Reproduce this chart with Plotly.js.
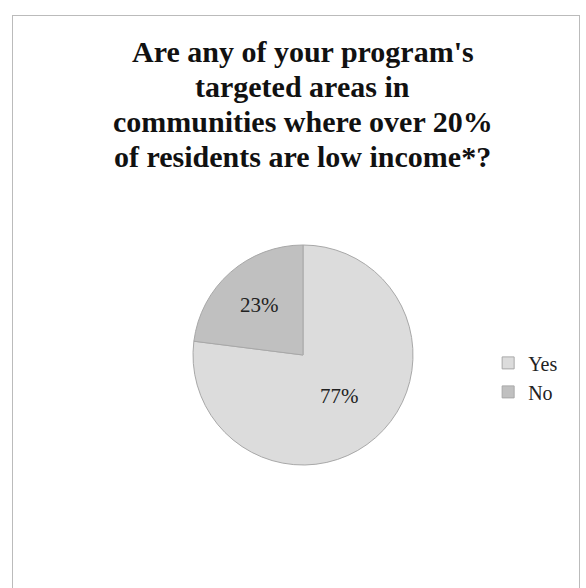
<!DOCTYPE html>
<html><head><meta charset="utf-8">
<script src="https://cdn.plot.ly/plotly-3.0.1.min.js"></script>
<style>
body{margin:0;padding:0;background:#fff;}
#frame{position:absolute;left:12px;top:15px;width:566px;height:580px;border:1px solid #bbb;}
#chart{position:absolute;left:0;top:0;width:586px;height:588px;}
</style></head>
<body>
<div id="frame"></div>
<div id="chart"></div>
<script>
const categories = ["Yes", "No"];
const values = [77, 23];
const colors = ["#dcdcdc", "#c0c0c0"];
const titleLines = ["Are any of your program's", "targeted areas in", "communities where over 20%", "of residents are low income*?"];

const lineTop = 33, lineStep = 35;
const annotations = titleLines.map((t, i) => ({
  text: t, xref: "paper", yref: "paper", showarrow: false,
  x: 0.517, xanchor: "center",
  y: 1 - (lineTop + i * lineStep) / 588, yanchor: "top",
  font: {family: "Liberation Serif", size: 30, color: "#111", weight: "bold"}
}));

Plotly.newPlot("chart", [{
  type: "pie",
  labels: categories,
  values: values,
  sort: false,
  direction: "clockwise",
  rotation: 0,
  marker: {colors: colors, line: {color: "#a8a8a8", width: 1}},
  textinfo: "percent",
  textposition: "inside",
  insidetextorientation: "horizontal",
  textfont: {family: "Liberation Serif", size: 21, color: "#222"},
  domain: {x: [193/586, 413/586], y: [1-465/588, 1-245/588]},
  hoverinfo: "none"
}], {
  width: 586, height: 588,
  margin: {l: 0, r: 0, t: 0, b: 0},
  paper_bgcolor: "rgba(0,0,0,0)",
  plot_bgcolor: "rgba(0,0,0,0)",
  annotations: annotations,
  showlegend: true,
  legend: {x: 0.833, xanchor: "left", y: 0.416, yanchor: "top", font: {family: "Liberation Serif", size: 20, color: "#222"}, itemwidth: 30}
}, {displayModeBar: false, staticPlot: true});
</script>
</body></html>
